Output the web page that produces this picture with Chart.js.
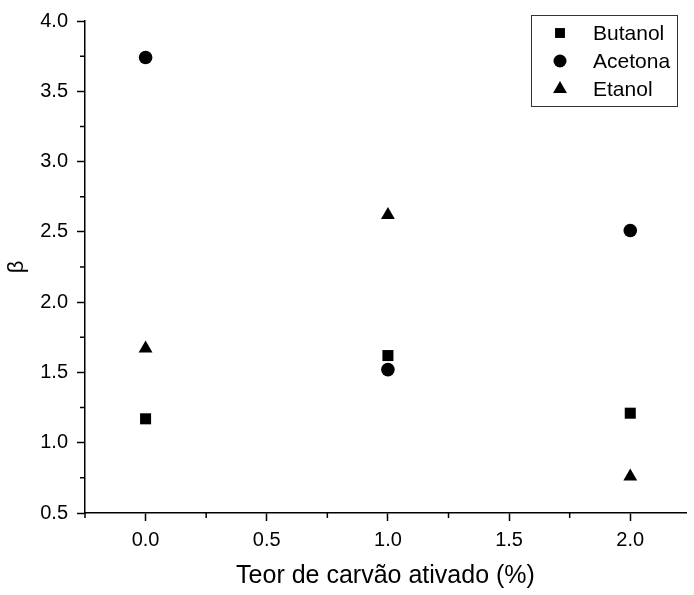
<!DOCTYPE html>
<html><head><meta charset="utf-8">
<script src="https://cdn.jsdelivr.net/npm/chart.js@4/dist/chart.umd.min.js"></script>
<style>html,body{margin:0;padding:0;background:#fff}#wrap{width:694px;height:595px}</style>
</head><body><div id="wrap"><canvas id="c" width="694" height="595"></canvas></div>
<script>
const xValues = [0, 1, 2];
const butanol = [1.17, 1.62, 1.21];
const acetona = [3.74, 1.52, 2.51];
const etanol = [1.67, 2.62, 0.76];
const seriesNames = ['Butanol', 'Acetona', 'Etanol'];
const xTicks = [0, 0.5, 1.0, 1.5, 2.0];
const yTicks = [0.5, 1.0, 1.5, 2.0, 2.5, 3.0, 3.5, 4.0];
const xMinorTicks = [-0.25, 0.25, 0.75, 1.25, 1.75];
const yMinorTicks = [0.75, 1.25, 1.75, 2.25, 2.75, 3.25, 3.75];
const xTitle = 'Teor de carvão ativado (%)';
const yTitle = 'β';

const FONT = "'Liberation Sans', Arial, sans-serif";
const styles = [
  {pointStyle: 'rect', radius: 7.8},
  {pointStyle: 'circle', radius: 6.8},
  {pointStyle: 'triangle', radius: 8}
];
const seriesValues = [butanol, acetona, etanol];
const datasets = seriesValues.map((vals, i) => ({
  label: seriesNames[i],
  data: xValues.map((x, j) => ({x: x, y: vals[j]})),
  pointStyle: styles[i].pointStyle,
  pointRadius: styles[i].radius,
  pointHoverRadius: styles[i].radius,
  backgroundColor: '#000',
  borderColor: '#000',
  borderWidth: 0,
  showLine: false
}));

function drawMarker(ctx, style, r, x, y) {
  ctx.beginPath();
  if (style === 'rect') {
    const s = Math.SQRT1_2 * r;
    ctx.rect(x - s, y - s, 2 * s, 2 * s);
  } else if (style === 'circle') {
    ctx.arc(x, y, r, 0, Math.PI * 2);
  } else {
    for (let k = 0; k < 3; k++) {
      const a = k * 2 * Math.PI / 3;
      const px = x + Math.sin(a) * r, py = y - Math.cos(a) * r;
      if (k === 0) ctx.moveTo(px, py); else ctx.lineTo(px, py);
    }
    ctx.closePath();
  }
  ctx.fill();
}

const extras = {
  id: 'extras',
  afterDraw(chart) {
    const ctx = chart.ctx;
    const xs = chart.scales.x, ys = chart.scales.y;
    const ca = chart.chartArea;
    ctx.save();
    ctx.strokeStyle = '#000';
    ctx.lineWidth = 1.5;
    ctx.beginPath();
    xMinorTicks.forEach(v => {
      const px = xs.getPixelForValue(v);
      ctx.moveTo(px, ca.bottom); ctx.lineTo(px, ca.bottom + 5);
    });
    yMinorTicks.forEach(v => {
      const py = ys.getPixelForValue(v);
      ctx.moveTo(ca.left - 5, py); ctx.lineTo(ca.left, py);
    });
    ctx.stroke();
    // legend
    const bx = ca.right - 155, by = ca.top - 6, bw = 146, bh = 91;
    ctx.lineWidth = 1;
    ctx.strokeStyle = '#333';
    ctx.strokeRect(bx + 0.5, by + 0.5, bw, bh);
    ctx.fillStyle = '#000';
    ctx.font = '21px ' + FONT;
    ctx.textBaseline = 'middle';
    ctx.textAlign = 'left';
    chart.data.datasets.forEach((ds, i) => {
      const cy = by + 18 + i * 28;
      const legendR = ds.pointStyle === 'rect' ? 7 : (ds.pointStyle === 'circle' ? 6.5 : 8);
      drawMarker(ctx, ds.pointStyle, legendR, bx + 29, cy);
      ctx.fillText(ds.label, bx + 62, cy + 1);
    });
    ctx.restore();
  }
};

new Chart(document.getElementById('c'), {
  type: 'scatter',
  data: {datasets},
  options: {
    responsive: false,
    animation: false,
    devicePixelRatio: 1,
    layout: {padding: {top: 20, right: 0, left: 0, bottom: 0}},
    plugins: {legend: {display: false}, tooltip: {enabled: false}},
    scales: {
      x: {
        type: 'linear', min: -0.25, max: 2.23,
        afterBuildTicks: s => { s.ticks = xTicks.map(v => ({value: v})); },
        afterFit: s => { s.height = 82; },
        ticks: {callback: v => Number(v).toFixed(1), color: '#000', font: {family: FONT, size: 20}, padding: 7, maxRotation: 0, autoSkip: false},
        grid: {drawOnChartArea: false, drawTicks: true, tickLength: 8, tickColor: '#000', tickWidth: 1.5},
        border: {color: '#000', width: 1.5},
        title: {display: true, text: xTitle, color: '#000', font: {family: FONT, size: 25}, padding: {top: 0, bottom: 4}}
      },
      y: {
        type: 'linear', min: 0.5, max: 4.0,
        afterBuildTicks: s => { s.ticks = yTicks.map(v => ({value: v})); },
        afterFit: s => { s.width = 85; },
        ticks: {callback: v => Number(v).toFixed(1), color: '#000', font: {family: FONT, size: 20}, padding: 9, autoSkip: false},
        grid: {drawOnChartArea: false, drawTicks: true, tickLength: 8, tickColor: '#000', tickWidth: 1.5},
        border: {color: '#000', width: 1.5},
        title: {display: true, text: yTitle, color: '#000', font: {family: FONT, size: 22}, padding: {top: 4, bottom: 0}}
      }
    }
  },
  plugins: [extras]
});
</script></body></html>
